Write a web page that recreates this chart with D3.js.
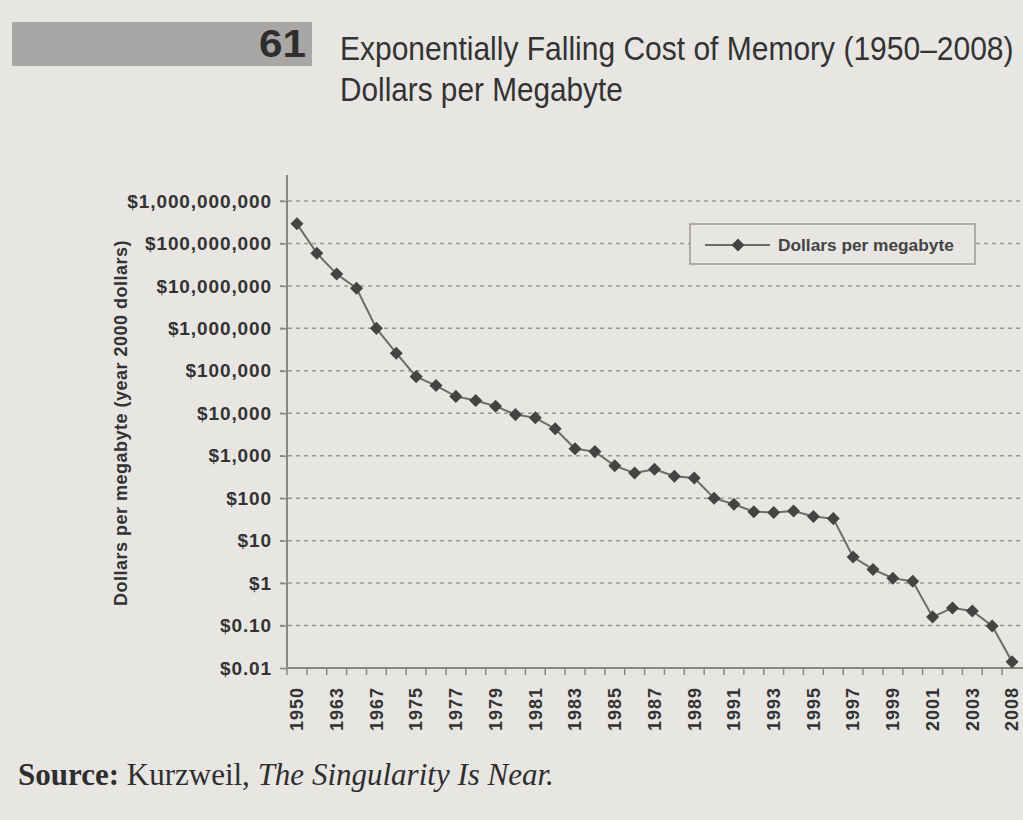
<!DOCTYPE html>
<html>
<head>
<meta charset="utf-8">
<script src="https://cdn.jsdelivr.net/npm/d3@7"></script>
<style>
  body { margin: 0; background: #e8e6e2; }
  svg { display: block; }
</style>
</head>
<body>
<svg></svg>
<script>
var width = 1023;
var height = 820;

// x categories (only every other one is labelled in the chart)
var years = [
    '1950', '1957', '1963', '1965', '1967', '1971', '1975', '1976', '1977', '1978',
    '1979', '1980', '1981', '1982', '1983', '1984', '1985', '1986', '1987', '1988',
    '1989', '1990', '1991', '1992', '1993', '1994', '1995', '1996', '1997', '1998',
    '1999', '2000', '2001', '2002', '2003', '2005', '2008'
];

// dollars per megabyte (year 2000 dollars)
var dollarsPerMB = [
    290000000, 59000000, 19000000, 8800000, 1000000, 260000, 73000, 45000, 25000, 20000,
    14700, 9300, 7800, 4300, 1460, 1250, 580, 390, 480, 330,
    300, 100, 72, 48, 46, 50, 37, 33, 4.1, 2.1,
    1.3, 1.1, 0.16, 0.26, 0.22, 0.098, 0.014
];

var yTicks = [1e9, 1e8, 1e7, 1e6, 1e5, 1e4, 1e3, 100, 10, 1, 0.1, 0.01];
var yTickLabels = [
    '$1,000,000,000', '$100,000,000', '$10,000,000', '$1,000,000', '$100,000',
    '$10,000', '$1,000', '$100', '$10', '$1', '$0.10', '$0.01'
];

var plotLeft = 287;
var plotRight = 1022;
var plotTop = 175;
var plotBottom = 668;

var svg = d3.select('svg')
    .attr('width', width)
    .attr('height', height);

var xScale = d3.scaleBand()
    .domain(years)
    .range([plotLeft, plotRight])
    .padding(0);

var yScale = d3.scaleLog()
    .domain([0.01, 1e9])
    .range([plotBottom, 201]);

var xMid = d => xScale(d) + xScale.bandwidth() / 2;

// squeeze a text horizontally to a given width (condensed book font)
function condense(sel, x, y, targetWidth){
    var len = sel.node().getComputedTextLength();
    sel.attr('transform', 'translate(' + x + ',' + y + ') scale(' + (targetWidth / len) + ',1)');
}

// header: grey bar with chart number and title
svg.append('rect')
    .attr('x', 12)
    .attr('y', 22)
    .attr('width', 300)
    .attr('height', 44)
    .attr('fill', '#a8a7a5');

var num = svg.append('text')
    .attr('text-anchor', 'end')
    .style('font-family', 'Liberation Sans, Arial, sans-serif')
    .style('font-weight', 'bold')
    .style('font-size', '38px')
    .style('fill', '#2e2e2e')
    .text('61');
condense(num, 306, 57, 47);

var title1 = svg.append('text')
    .style('font-family', 'Liberation Sans, Arial, sans-serif')
    .style('font-size', '34px')
    .style('fill', '#333')
    .text('Exponentially Falling Cost of Memory (1950\u20132008)');
condense(title1, 340, 60, 674);

var title2 = svg.append('text')
    .style('font-family', 'Liberation Sans, Arial, sans-serif')
    .style('font-size', '34px')
    .style('fill', '#333')
    .text('Dollars per Megabyte');
condense(title2, 340, 101, 283);

// dashed gridlines
svg.append('g')
    .selectAll('line')
    .data(yTicks.slice(0, -1))
    .enter()
    .append('line')
        .attr('x1', plotLeft - 7)
        .attr('x2', width)
        .attr('y1', d => yScale(d))
        .attr('y2', d => yScale(d))
        .attr('stroke', '#9a9895')
        .attr('stroke-width', 1.5)
        .attr('stroke-dasharray', '4,4');

// y axis
var yAxis = d3.axisLeft(yScale)
    .tickValues(yTicks)
    .tickFormat((d, i) => yTickLabels[i])
    .tickSize(7)
    .tickPadding(8);

var yAxisG = svg.append('g')
    .attr('transform', 'translate(' + plotLeft + ',0)')
    .call(yAxis);

yAxisG.select('.domain').remove();
yAxisG.selectAll('line').attr('stroke', '#8a8885').attr('stroke-width', 1.5);
yAxisG.selectAll('text')
    .style('font-family', 'Liberation Sans, Arial, sans-serif')
    .style('font-weight', 'bold')
    .style('font-size', '19px')
    .style('letter-spacing', '0.9px')
    .style('fill', '#333');

svg.append('line')
    .attr('x1', plotLeft)
    .attr('x2', plotLeft)
    .attr('y1', plotTop)
    .attr('y2', plotBottom)
    .attr('stroke', '#8a8885')
    .attr('stroke-width', 2);

svg.append('text')
    .attr('transform', 'translate(127,423) rotate(-90)')
    .attr('text-anchor', 'middle')
    .style('font-family', 'Liberation Sans, Arial, sans-serif')
    .style('font-weight', 'bold')
    .style('font-size', '18px')
    .style('letter-spacing', '0.5px')
    .style('fill', '#333')
    .text('Dollars per megabyte (year 2000 dollars)');

// x axis, ticks on band edges, labels on every other year
var xTickG = svg.append('g');

xTickG.append('line')
    .attr('x1', plotLeft)
    .attr('x2', width)
    .attr('y1', plotBottom)
    .attr('y2', plotBottom)
    .attr('stroke', '#8a8885')
    .attr('stroke-width', 2);

xTickG.selectAll('.tick')
    .data(years)
    .enter()
    .append('line')
        .attr('x1', d => xScale(d))
        .attr('x2', d => xScale(d))
        .attr('y1', plotBottom)
        .attr('y2', plotBottom + 7)
        .attr('stroke', '#8a8885')
        .attr('stroke-width', 1.5);

xTickG.selectAll('.label')
    .data(years.filter((d, i) => i % 2 === 0))
    .enter()
    .append('text')
        .attr('transform', d => 'translate(' + xMid(d) + ',' + (plotBottom + 19) + ') rotate(-90)')
        .attr('text-anchor', 'end')
        .attr('dy', '0.35em')
        .style('font-family', 'Liberation Sans, Arial, sans-serif')
        .style('font-weight', 'bold')
        .style('font-size', '18px')
        .style('letter-spacing', '1px')
        .style('fill', '#333')
        .text(d => d);

// series line and diamond markers
var line = d3.line()
    .x((d, i) => xMid(years[i]))
    .y(d => yScale(d));

svg.append('path')
    .datum(dollarsPerMB)
    .attr('d', line)
    .attr('fill', 'none')
    .attr('stroke', '#6e6c6a')
    .attr('stroke-width', 2);

var diamond = d3.symbol().type(d3.symbolSquare).size(85);

svg.append('g')
    .selectAll('path')
    .data(dollarsPerMB)
    .enter()
    .append('path')
        .attr('d', diamond)
        .attr('transform', (d, i) => 'translate(' + xMid(years[i]) + ',' + yScale(d) + ') rotate(45)')
        .attr('fill', '#454442');

// legend
var legend = svg.append('g');

legend.append('rect')
    .attr('x', 690)
    .attr('y', 224)
    .attr('width', 285)
    .attr('height', 40)
    .attr('fill', '#e8e6e2')
    .attr('stroke', '#9a9895')
    .attr('stroke-width', 1.5);

legend.append('line')
    .attr('x1', 705)
    .attr('x2', 770)
    .attr('y1', 245)
    .attr('y2', 245)
    .attr('stroke', '#6e6c6a')
    .attr('stroke-width', 2);

legend.append('path')
    .attr('d', diamond)
    .attr('transform', 'translate(738,245) rotate(45)')
    .attr('fill', '#454442');

legend.append('text')
    .attr('x', 778)
    .attr('y', 245)
    .attr('dy', '0.35em')
    .style('font-family', 'Liberation Sans, Arial, sans-serif')
    .style('font-weight', 'bold')
    .style('font-size', '17.3px')
    .style('fill', '#444')
    .text('Dollars per megabyte');

// source line
var source = svg.append('text')
    .attr('x', 18)
    .attr('y', 785)
    .style('font-family', 'Liberation Serif, Times New Roman, serif')
    .style('font-size', '31px')
    .style('fill', '#2e2e2e');

source.append('tspan').style('font-weight', 'bold').text('Source: ');
source.append('tspan').text('Kurzweil, ');
source.append('tspan').style('font-style', 'italic').text('The Singularity Is Near.');
</script>
</body>
</html>
